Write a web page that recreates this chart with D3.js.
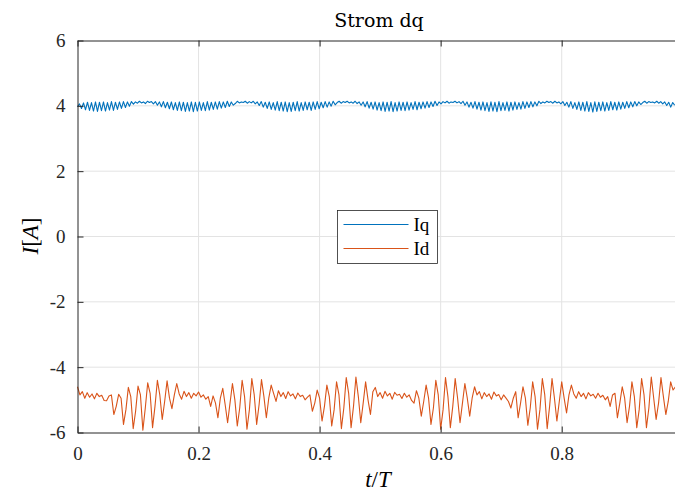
<!DOCTYPE html>
<html>
<head>
<meta charset="utf-8">
<script src="https://cdn.jsdelivr.net/npm/d3@7"></script>
<style>
  body { margin: 0; background: #fff; }
  svg { display: block; font-family: "Liberation Serif", "DejaVu Serif", serif; }
</style>
</head>
<body>
<div id="chart"></div>
<script>
// sample spacing in t/T for each signal
const dtIq = 0.0033;
const dtId = 0.004;

// Iq (quiet stretches near 0.11, 0.28, 0.45, 0.62, 0.78, 0.95)
const iqValues = [
  3.97, 4.06, 3.92, 4.09, 3.88, 4.11, 3.86, 4.10, 3.84, 4.12, 3.83, 4.11, 3.85, 4.12, 3.84, 4.10, 3.87, 4.13, 3.86, 4.11, 3.89, 4.12, 3.92, 4.13, 3.95, 4.12, 3.99, 4.13,
  4.05, 4.12, 4.08, 4.14, 4.09, 4.12, 4.07, 4.14, 4.10, 4.13, 4.06, 4.13,
  4.02, 4.12, 3.97, 4.13, 3.94, 4.11, 3.91, 4.12, 3.88, 4.10, 3.86, 4.12, 3.85, 4.11, 3.83, 4.10, 3.84, 4.12, 3.82, 4.11, 3.84, 4.12, 3.86, 4.10, 3.85, 4.13, 3.87, 4.11, 3.89, 4.12, 3.90, 4.13, 3.93, 4.12, 3.95, 4.14, 3.98, 4.12, 4.02,
  4.07, 4.14, 4.09, 4.12, 4.10, 4.14, 4.08, 4.13, 4.09, 4.14, 4.06, 4.12,
  4.01, 4.13, 3.96, 4.11, 3.92, 4.12, 3.89, 4.10, 3.87, 4.13, 3.85, 4.11, 3.84, 4.12, 3.82, 4.10, 3.83, 4.11, 3.85, 4.13, 3.84, 4.10, 3.86, 4.12, 3.88, 4.11, 3.86, 4.12, 3.89, 4.13, 3.91, 4.11, 3.94, 4.13, 3.96, 4.12, 3.99, 4.14, 4.03,
  4.10, 4.14, 4.08, 4.13, 4.10, 4.14, 4.09, 4.12, 4.08, 4.14, 4.07, 4.12,
  4.02, 4.12, 3.97, 4.13, 3.93, 4.11, 3.90, 4.12, 3.87, 4.10, 3.85, 4.12, 3.83, 4.11, 3.84, 4.13, 3.82, 4.10, 3.84, 4.12, 3.86, 4.11, 3.85, 4.12, 3.87, 4.10, 3.89, 4.13, 3.88, 4.11, 3.91, 4.12, 3.93, 4.13, 3.95, 4.12, 3.98, 4.14, 4.01, 4.12,
  4.06, 4.13, 4.09, 4.14, 4.08, 4.12, 4.10, 4.14, 4.09, 4.13, 4.07, 4.14,
  4.02, 4.12, 3.96, 4.11, 3.93, 4.13, 3.90, 4.11, 3.87, 4.12, 3.85, 4.10, 3.83, 4.12, 3.84, 4.11, 3.82, 4.13, 3.85, 4.10, 3.86, 4.12, 3.84, 4.11, 3.87, 4.12, 3.89, 4.10, 3.90, 4.13, 3.92, 4.12, 3.95, 4.13, 3.97, 4.12, 4.00, 4.14,
  4.07, 4.12, 4.09, 4.14, 4.10, 4.13, 4.08, 4.14, 4.09, 4.12, 4.06, 4.13,
  4.01, 4.11, 3.96, 4.13, 3.92, 4.10, 3.89, 4.12, 3.86, 4.11, 3.84, 4.13, 3.83, 4.10, 3.81, 4.12, 3.83, 4.11, 3.85, 4.12, 3.84, 4.10, 3.86, 4.13, 3.88, 4.11, 3.87, 4.12, 3.90, 4.11, 3.92, 4.13, 3.94, 4.12, 3.97, 4.13, 4.00, 4.12, 4.04,
  4.10, 4.14, 4.08, 4.13, 4.10, 4.12, 4.09, 4.14, 4.08, 4.13, 4.06, 4.12,
  4.01, 4.11, 3.96, 4.10, 4.02
];

// Id (big spikes alternate with calmer stretches)
const idValues = [
  -4.60, -4.85, -4.75, -4.95, -4.78, -4.92, -4.82, -4.97, -4.80, -4.90, -4.86, -5.02, -5.03, -4.88,
  -4.85, -5.45, -5.20, -4.83, -4.95, -5.75, -5.30, -4.62, -4.90, -5.88, -5.35, -4.58, -4.85, -5.93, -5.25, -4.48, -4.80, -5.85, -5.20, -4.40, -4.85, -5.60, -5.05, -4.42, -4.95,
  -5.27, -4.85, -4.50, -4.82, -4.98, -4.74, -4.90, -4.78, -4.95, -4.80, -4.88, -4.76, -4.92, -4.85, -4.98, -4.90,
  -5.20, -4.88, -5.10, -5.55, -4.95, -4.65, -5.15, -5.70, -5.10, -4.50, -5.00, -5.80, -5.25, -4.40, -4.90, -5.90, -5.30, -4.35, -4.85, -5.75, -5.15, -4.38, -4.90, -5.55, -4.95,
  -4.55, -4.80, -5.05, -4.72, -4.90, -4.78, -4.96, -4.75, -4.88, -4.82, -4.97, -4.79, -4.90, -4.86, -5.00, -4.92,
  -4.85, -5.35, -5.10, -4.70, -4.95, -5.65, -5.20, -4.55, -4.90, -5.80, -5.30, -4.45, -4.85, -5.88, -5.25, -4.32, -4.80, -5.85, -5.20, -4.30, -4.90, -5.70, -5.10, -4.45, -5.00,
  -5.45, -4.75, -4.62, -4.90, -4.78, -4.95, -4.74, -4.88, -4.80, -4.98, -4.77, -4.86, -4.83, -4.96, -4.80, -4.92, -4.85, -5.02,
  -5.10, -4.72, -4.95, -5.50, -5.05, -4.55, -4.95, -5.75, -5.25, -4.40, -4.85, -5.90, -5.30, -4.32, -4.90, -5.85, -5.20, -4.35, -4.95, -5.70, -5.10, -4.50, -4.95,
  -5.50, -4.95, -4.60, -4.85, -4.75, -4.97, -4.78, -4.90, -4.82, -4.98, -4.76, -4.88, -4.84, -5.00, -4.85, -4.95, -5.05,
  -5.25, -4.95, -4.75, -5.55, -5.10, -4.60, -4.95, -5.78, -5.25, -4.45, -4.90, -5.90, -5.30, -4.35, -4.85, -5.88, -5.20, -4.35, -4.95, -5.65, -5.05, -4.45, -4.95,
  -5.40, -4.85, -4.55, -4.82, -4.95, -4.75, -4.90, -4.80, -4.97, -4.78, -4.88, -4.83, -4.95, -4.80, -4.92, -4.86, -5.00, -4.90,
  -5.20, -4.85, -4.80, -5.55, -5.10, -4.60, -4.95, -5.70, -5.20, -4.45, -4.90, -5.85, -5.30, -4.35, -4.85, -5.85, -5.25, -4.30, -4.95, -5.60, -5.10, -4.32, -4.90, -5.45, -5.05, -4.45, -4.70, -4.60
];

const xTicks = [0, 0.2, 0.4, 0.6, 0.8];
const yTicks = [-6, -4, -2, 0, 2, 4, 6];
const seriesNames = ["Iq", "Id"];
const seriesColors = ["#0072BD", "#D95319"];

const W = 675, H = 495;
const margin = {top: 40.5, left: 77.5, bottom: 432.5, right: 675.5};
const axisColor = "#262626";

const iq = iqValues.map((v, i) => ({t: i * dtIq, v: v}));
const id = idValues.map((v, i) => ({t: i * dtId, v: v}));

const x = d3.scaleLinear().domain([0, 0.988]).range([margin.left, margin.right]);
const y = d3.scaleLinear().domain([-6, 6]).range([margin.bottom, margin.top]);

const svg = d3.select("#chart").append("svg")
    .attr("width", W)
    .attr("height", H);

// grid
svg.append("g").selectAll("line.gx")
    .data(xTicks.filter(d => d > 0))
    .enter().append("line")
    .attr("x1", d => x(d)).attr("x2", d => x(d))
    .attr("y1", margin.top).attr("y2", margin.bottom)
    .attr("stroke", "#e3e3e3").attr("stroke-width", 1);
svg.append("g").selectAll("line.gy")
    .data(yTicks.filter(d => d > -6 && d < 6))
    .enter().append("line")
    .attr("x1", margin.left).attr("x2", margin.right)
    .attr("y1", d => y(d)).attr("y2", d => y(d))
    .attr("stroke", "#e3e3e3").attr("stroke-width", 1);

// lines
const line = d3.line().x(d => x(d.t)).y(d => y(d.v));
[iq, id].forEach((data, k) => {
    svg.append("path")
        .datum(data)
        .attr("fill", "none")
        .attr("stroke", seriesColors[k])
        .attr("stroke-width", 1.1)
        .attr("stroke-linejoin", "round")
        .attr("d", line);
});

// axes (MATLAB style: ticks inward, box on)
const tickLen = 6;
const fmt = d => String(d);   // plain hyphen minus like the original
const xAxis = svg.append("g")
    .attr("transform", "translate(0," + margin.bottom + ")")
    .call(d3.axisBottom(x).tickValues(xTicks).tickSizeInner(-tickLen).tickSizeOuter(0).tickPadding(14).tickFormat(fmt));
const yAxis = svg.append("g")
    .attr("transform", "translate(" + margin.left + ",0)")
    .call(d3.axisLeft(y).tickValues(yTicks).tickSizeInner(-tickLen).tickSizeOuter(0).tickPadding(12).tickFormat(fmt));
svg.append("g")
    .attr("transform", "translate(0," + margin.top + ")")
    .call(d3.axisTop(x).tickValues(xTicks).tickSizeInner(-tickLen).tickSizeOuter(0).tickFormat(""));
[xAxis, yAxis].forEach(a => {
    a.selectAll(".tick text")
        .attr("fill", axisColor)
        .style("font-size", "19px")
        .style("font-family", "'Liberation Serif', serif");
});
svg.selectAll(".domain").attr("stroke", axisColor);
svg.selectAll(".tick line").attr("stroke", axisColor);

// title and labels
svg.append("text")
    .attr("x", 379).attr("y", 27)
    .attr("text-anchor", "middle")
    .attr("fill", "#000")
    .style("font-family", "'DejaVu Serif', serif")
    .style("font-size", "19px")
    .text("Strom dq");

const xl = svg.append("text")
    .attr("x", 378).attr("y", 487)
    .attr("text-anchor", "middle")
    .style("font-size", "23px");
xl.append("tspan").style("font-style", "italic").text("t");
xl.append("tspan").text("/");
xl.append("tspan").style("font-style", "italic").text("T");

const yl = svg.append("text")
    .attr("transform", "translate(38,236) rotate(-90)")
    .attr("text-anchor", "middle")
    .style("font-size", "23px");
yl.append("tspan").style("font-style", "italic").text("I");
yl.append("tspan").text("[");
yl.append("tspan").style("font-style", "italic").text("A");
yl.append("tspan").text("]");

// legend
const lg = svg.append("g").attr("transform", "translate(337.5,210.5)");
lg.append("rect")
    .attr("width", 100).attr("height", 53)
    .attr("fill", "#fff")
    .attr("stroke", axisColor).attr("stroke-width", 0.8);
seriesNames.forEach((name, k) => {
    const yy = 14 + k * 24;
    lg.append("line")
        .attr("x1", 6).attr("x2", 71)
        .attr("y1", yy).attr("y2", yy)
        .attr("stroke", seriesColors[k]).attr("stroke-width", 1.1);
    lg.append("text")
        .attr("x", 76).attr("y", yy + 6)
        .attr("fill", "#000")
        .style("font-size", "19px")
        .text(name);
});
</script>
</body>
</html>
